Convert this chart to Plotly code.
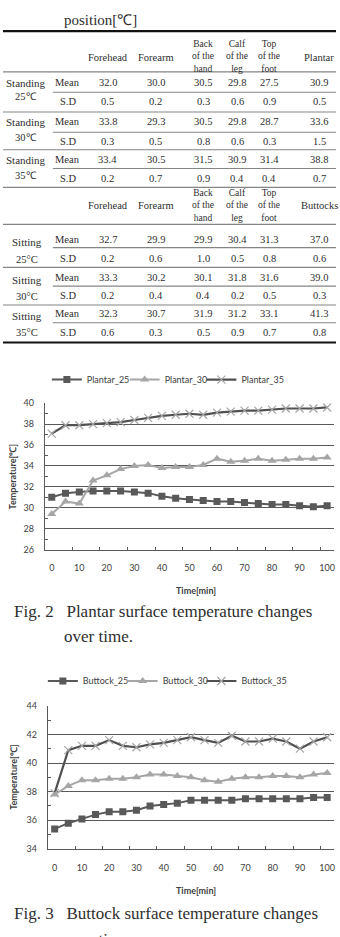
import plotly.graph_objects as go

W, H = 340, 937

# ---------------- data ----------------
header1 = ["Forehead", "Forearm", "Back<br>of the<br>hand", "Calf<br>of the<br>leg", "Top<br>of the<br>foot", "Plantar"]
header2 = ["Forehead", "Forearm", "Back<br>of the<br>hand", "Calf<br>of the<br>leg", "Top<br>of the<br>foot", "Buttocks"]
standing_labels = [["Standing", "25℃"], ["Standing", "30℃"], ["Standing", "35℃"]]
sitting_labels = [["Sitting", "25°C"], ["Sitting", "30°C"], ["Sitting", "35°C"]]
stat_labels = ["Mean", "S.D"]

standing_mean = [[32.0, 30.0, 30.5, 29.8, 27.5, 30.9],
                 [33.8, 29.3, 30.5, 29.8, 28.7, 33.6],
                 [33.4, 30.5, 31.5, 30.9, 31.4, 38.8]]
standing_sd = [[0.5, 0.2, 0.3, 0.6, 0.9, 0.5],
               [0.3, 0.5, 0.8, 0.6, 0.3, 1.5],
               [0.2, 0.7, 0.9, 0.4, 0.4, 0.7]]
sitting_mean = [[32.7, 29.9, 29.9, 30.4, 31.3, 37.0],
                [33.3, 30.2, 30.1, 31.8, 31.6, 39.0],
                [32.3, 30.7, 31.9, 31.2, 33.1, 41.3]]
sitting_sd = [[0.2, 0.6, 1.0, 0.5, 0.8, 0.6],
              [0.2, 0.4, 0.4, 0.2, 0.5, 0.3],
              [0.6, 0.3, 0.5, 0.9, 0.7, 0.8]]

time_min = [0, 5, 10, 15, 20, 25, 30, 35, 40, 45, 50, 55, 60, 65, 70, 75, 80, 85, 90, 95, 100]
time_ticks = [0, 10, 20, 30, 40, 50, 60, 70, 80, 90, 100]

plantar_25 = [31.0, 31.4, 31.5, 31.6, 31.6, 31.6, 31.5, 31.4, 31.1, 30.9, 30.8, 30.7, 30.6, 30.6, 30.5, 30.4, 30.3, 30.3, 30.2, 30.1, 30.2]
plantar_30 = [29.4, 30.6, 30.4, 32.6, 33.1, 33.7, 34.0, 34.1, 33.8, 33.9, 33.9, 34.1, 34.7, 34.4, 34.5, 34.7, 34.5, 34.6, 34.7, 34.7, 34.8]
plantar_35 = [37.1, 37.9, 37.9, 38.0, 38.1, 38.2, 38.4, 38.6, 38.8, 38.9, 39.0, 38.9, 39.1, 39.2, 39.3, 39.3, 39.4, 39.5, 39.5, 39.5, 39.6]

buttock_25 = [35.4, 35.8, 36.1, 36.4, 36.6, 36.6, 36.7, 37.0, 37.1, 37.2, 37.4, 37.4, 37.4, 37.4, 37.5, 37.5, 37.5, 37.5, 37.5, 37.6, 37.6]
buttock_30 = [37.8, 38.4, 38.8, 38.8, 38.9, 38.9, 39.0, 39.2, 39.2, 39.1, 39.0, 38.8, 38.7, 38.9, 39.0, 39.0, 39.1, 39.1, 39.0, 39.2, 39.3]
buttock_35 = [37.9, 40.9, 41.2, 41.2, 41.6, 41.2, 41.1, 41.3, 41.4, 41.6, 41.8, 41.6, 41.4, 41.9, 41.5, 41.5, 41.7, 41.5, 41.0, 41.5, 41.8]

# ---------------- helpers ----------------
def px(x):
    return x / W

def py(y):
    return 1 - y / H

SERIF = "Liberation Serif"
SANS = "Lato"
TXT = "#2e2e2e"
DARK = "#595959"
LIGHT = "#a6a6a6"

annotations = []
shapes = []

def text(x, y, s, size=10.5, family=SERIF, color=TXT, xanchor="center", bold=False, angle=0):
    annotations.append(dict(x=px(x), y=py(y), xref="paper", yref="paper", text=(f"<b>{s}</b>" if bold else s),
                            showarrow=False, xanchor=xanchor, yanchor="middle", textangle=angle,
                            font=dict(family=family, size=size, color=color)))

def hline(y, x0, x1, width=1.1, color="#858585"):
    shapes.append(dict(type="line", xref="paper", yref="paper", x0=px(x0), x1=px(x1), y0=py(y), y1=py(y),
                       line=dict(color=color, width=width)))

# ---------------- table ----------------
text(62, 14, "position[℃]", size=15, xanchor="left")

col_x = [108, 156, 204, 238, 270, 320]
stat_x = 68
lab_x = 26

hline(25.5, 3, 337, width=2.2, color="#111111")

def header(cols, y_one, y_multi):
    for cx, s in zip(col_x, cols):
        if "<br>" in s:
            text(cx, y_multi, s, size=9.5)
        else:
            text(cx, y_one, s)

header(header1, 52, 51)
hline(66.7, 3, 337)

st_rows = [(77, 97), (117, 137.5), (155.5, 174.3)]
st_seps = [87.3, 127.7, 164.5]
st_bottoms = [107.3, 145.5, 183.5]
st_lab = [(78, 92), (117.5, 133), (156, 172)]
for g in range(3):
    ym, ys = st_rows[g]
    text(stat_x, ym, stat_labels[0])
    text(stat_x, ys, stat_labels[1])
    for cx, v in zip(col_x, standing_mean[g]):
        text(cx, ym, f"{v:.1f}")
    for cx, v in zip(col_x, standing_sd[g]):
        text(cx, ys, f"{v:.1f}")
    text(lab_x, st_lab[g][0], standing_labels[g][0], size=11)
    text(lab_x, st_lab[g][1], standing_labels[g][1])
    hline(st_seps[g], 53, 337)
    hline(st_bottoms[g], 3, 337)

header(header2, 202, 202)
hline(221, 3, 337)

si_rows = [(236.7, 255.7), (274.5, 293.3), (311.5, 330.7)]
si_seps = [244.5, 283.5, 320.5]
si_bottoms = [264.5, 302.5]
si_lab = [(239, 257), (277, 293.5), (314, 330.5)]
for g in range(3):
    ym, ys = si_rows[g]
    text(stat_x, ym, stat_labels[0])
    text(stat_x, ys, stat_labels[1])
    for cx, v in zip(col_x, sitting_mean[g]):
        text(cx, ym, f"{v:.1f}")
    for cx, v in zip(col_x, sitting_sd[g]):
        text(cx, ys, f"{v:.1f}")
    text(lab_x + 1, si_lab[g][0], sitting_labels[g][0], size=11)
    text(lab_x + 1, si_lab[g][1], sitting_labels[g][1])
    hline(si_seps[g], 53, 337)
    if g < 2:
        hline(si_bottoms[g], 3, 337)
hline(340.5, 3, 337, width=2.2, color="#111111")

# ---------------- charts ----------------
fig = go.Figure()

def add_series(name, y, xa, ya, leg, kind):
    if kind == 25:
        line = dict(color=DARK, width=2)
        marker = dict(symbol="square", size=7, color=DARK)
    elif kind == 30:
        line = dict(color=LIGHT, width=2)
        marker = dict(symbol="triangle-up", size=8, color=LIGHT)
    else:
        line = dict(color="#505050", width=2.2)
        marker = dict(symbol="x-thin-open", size=8, color=LIGHT, line=dict(width=1.2, color=LIGHT))
    fig.add_trace(go.Scatter(x=time_min, y=y, name=name, mode="lines+markers", line=line, marker=marker,
                             xaxis=xa, yaxis=ya, legend=leg))

add_series("Plantar_25", plantar_25, "x", "y", "legend", 25)
add_series("Plantar_30", plantar_30, "x", "y", "legend2", 30)
add_series("Plantar_35", plantar_35, "x", "y", "legend3", 35)
add_series("Buttock_25", buttock_25, "x2", "y2", "legend4", 25)
add_series("Buttock_30", buttock_30, "x2", "y2", "legend5", 30)
add_series("Buttock_35", buttock_35, "x2", "y2", "legend6", 35)

tickfont = dict(family=SANS, size=9, color="#404040")

def xaxis_cfg(x0, x1, anchor):
    return dict(domain=[px(x0), px(x1)], anchor=anchor, range=[-2.5, 102.5], tickmode="array",
                tickvals=time_ticks, ticks="", showgrid=False, zeroline=False, showline=True,
                linecolor=DARK, linewidth=1, tickfont=tickfont, ticklabelstandoff=10,
                minor=dict(tickvals=[t + 7.5 for t in time_ticks[:-1]], ticks="inside", ticklen=3,
                           tickcolor=DARK, tickwidth=1, showgrid=False))

def yaxis_cfg(ytop, ybot, rng, anchor):
    return dict(domain=[py(ybot), py(ytop)], anchor=anchor, range=rng, tick0=rng[0], dtick=2, ticks="",
                showgrid=True, gridcolor=DARK, gridwidth=1, zeroline=False, showline=True, linecolor=DARK,
                linewidth=1, tickfont=tickfont, ticklabelstandoff=8,
                minor=dict(dtick=1, tick0=rng[0], ticks="inside", ticklen=3, tickcolor=DARK, tickwidth=1,
                           showgrid=False))

def legend_at(x, y):
    return dict(x=px(x), y=py(y), orientation="h", xanchor="left", yanchor="middle",
                font=dict(family=SANS, size=9, color="#404040"), bgcolor="rgba(0,0,0,0)", itemwidth=30)

# axis titles and captions
text(12, 476, "Temperature[℃]", size=9, family=SANS, color="#404040", bold=True, angle=-90)
text(197, 591, "Time[min]", size=9, family=SANS, color="#404040", bold=True)
text(12, 613, "Fig.\u00a02\u00a0\u00a0 Plantar surface temperature changes", size=17, xanchor="left")
text(62, 638, "over time.", size=17, xanchor="left")

text(14, 780, "Temperature[℃]", size=9, family=SANS, color="#404040", bold=True, angle=-90)
text(197, 895, "Time[min]", size=9, family=SANS, color="#404040", bold=True)
text(12, 918, "Fig.\u00a03\u00a0\u00a0 Buttock surface temperature changes", size=17, xanchor="left")
text(62, 945, "over time.", size=17, xanchor="left")

fig.update_layout(
    width=W, height=H, margin=dict(l=0, r=0, t=0, b=0, pad=0),
    paper_bgcolor="white", plot_bgcolor="white",
    font=dict(family=SERIF, color=TXT),
    xaxis=xaxis_cfg(45, 335, "y"),
    yaxis=yaxis_cfg(402, 550, [26, 40], "x"),
    xaxis2=xaxis_cfg(48, 335, "y2"),
    yaxis2=yaxis_cfg(708, 853, [34, 44], "x2"),
    legend=legend_at(47, 378),
    legend2=legend_at(125, 378),
    legend3=legend_at(202, 378),
    legend4=legend_at(43, 683),
    legend5=legend_at(123, 683),
    legend6=legend_at(202, 683),
    annotations=annotations,
    shapes=shapes,
    showlegend=True,
)

fig.write_html("out.html")
